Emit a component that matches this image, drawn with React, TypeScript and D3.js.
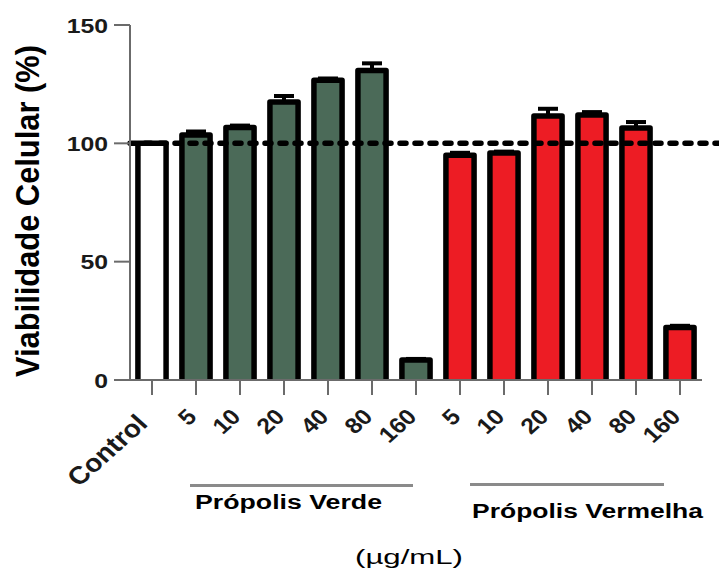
import React from "react";
import * as d3 from "d3";

const categoryLabels = ["Control", "5", "10", "20", "40", "80", "160", "5", "10", "20", "40", "80", "160"];
const categoryGroups = ["control", "verde", "verde", "verde", "verde", "verde", "verde", "vermelha", "vermelha", "vermelha", "vermelha", "vermelha", "vermelha"];
const meanValues = [100, 103.5, 106.7, 117.5, 126.7, 130.8, 8.4, 95, 95.9, 111.6, 112, 106.5, 22.2];
const errorValues = [0, 1.5, 0.8, 2.5, 0.7, 3, 0.5, 1, 0.6, 3, 1.2, 2.5, 0.7];
const yTicks = [0, 50, 100, 150];
const referenceValue = 100;
const groupNames = ["Própolis Verde", "Própolis Vermelha"];
const unitLabel = "(µg/mL)";
const yAxisTitle = "Viabilidade Celular (%)";

const colors: Record<string, string> = {
  control: "#ffffff",
  verde: "#4b6a58",
  vermelha: "#ed1c24",
};

export default function App() {
  const W = 719;
  const H = 573;
  const x0 = 130;
  const x1 = 702;
  const yBase = 380;
  const yTop = 25;

  const x = d3
    .scaleBand<number>()
    .domain(d3.range(categoryLabels.length))
    .range([x0, x1])
    .paddingInner(0.36)
    .paddingOuter(0.18);
  const y = d3.scaleLinear().domain([0, 150]).range([yBase, yTop]);
  const bw = x.bandwidth();
  const cx = (i: number) => (x(i) as number) + bw / 2;

  const font = "Liberation Sans, Arial, Helvetica, sans-serif";
  const axisColor = "#6b6b6b";

  return (
    <svg
      width={W}
      height={H}
      viewBox={`0 0 ${W} ${H}`}
      style={{ position: "fixed", left: 0, top: 0, background: "#fff" }}
    >
      <rect x={0} y={0} width={W} height={H} fill="#fff" />

      {/* Y axis title */}
      <text
        transform={`translate(39, 211) scale(1.08, 1) rotate(-90)`}
        textAnchor="middle"
        fontFamily={font}
        fontWeight="bold"
        fontSize={31}
        textLength={332}
        lengthAdjust="spacingAndGlyphs"
        fill="#000"
      >
        {yAxisTitle}
      </text>

      {/* Bars */}
      {meanValues.map((v, i) => {
        const left = x(i) as number;
        const right = left + bw;
        const top = y(v);
        return (
          <g key={`bar-${i}`}>
            <rect x={left} y={top} width={bw} height={yBase - top} fill={colors[categoryGroups[i]]} />
            {errorValues[i] > 0 && (
              <g stroke="#000" strokeWidth={4}>
                <line x1={cx(i)} x2={cx(i)} y1={top} y2={y(v + errorValues[i])} />
                <line x1={cx(i) - 10} x2={cx(i) + 10} y1={y(v + errorValues[i])} y2={y(v + errorValues[i])} />
              </g>
            )}
            <path
              d={`M${left},${yBase} L${left},${top} L${right},${top} L${right},${yBase}`}
              fill="none"
              stroke="#000"
              strokeWidth={5.5}
              strokeLinejoin="round"
            />
          </g>
        );
      })}

      {/* Reference dotted line */}
      <line
        x1={x0}
        x2={W}
        y1={y(referenceValue)}
        y2={y(referenceValue)}
        stroke="#000"
        strokeWidth={5.5}
        strokeDasharray="6 9"
        strokeLinecap="round"
      />

      {/* Y axis */}
      <line x1={x0} x2={x0} y1={y(150)} y2={yBase} stroke={axisColor} strokeWidth={2} />
      {yTicks.map((t) => (
        <g key={`yt-${t}`}>
          <line x1={x0 - 16} x2={x0} y1={y(t)} y2={y(t)} stroke={axisColor} strokeWidth={2} />
          <text
            transform={`translate(${x0 - 22}, ${y(t) + 7.5}) scale(1.18, 1)`}
            textAnchor="end"
            fontFamily={font}
            fontWeight="bold"
            fontSize={21}
            fill="#1a1a1a"
          >
            {t}
          </text>
        </g>
      ))}

      {/* X axis */}
      <line x1={x0 - 16} x2={x1} y1={yBase} y2={yBase} stroke={axisColor} strokeWidth={2} />
      {categoryLabels.map((lab, i) => (
        <g key={`xt-${i}`}>
          <line x1={cx(i)} x2={cx(i)} y1={yBase} y2={yBase + 15} stroke={axisColor} strokeWidth={2} />
          <text
            transform={
              i === 0
                ? `translate(${cx(i) - 3}, ${yBase + 45}) scale(1.12, 1) rotate(-45)`
                : `translate(${cx(i) + 2}, ${yBase + 38}) scale(1.12, 1) rotate(-45)`
            }
            textAnchor="end"
            fontFamily={font}
            fontWeight="bold"
            fontSize={i === 0 ? 25 : 22}
            fill="#1a1a1a"
          >
            {lab}
          </text>
        </g>
      ))}

      {/* Group annotations */}
      <line x1={cx(1) - 6} x2={cx(6) - 3} y1={485.5} y2={485.5} stroke="#8a8a8a" strokeWidth={3} />
      <line x1={cx(7) + 10} x2={cx(12) - 16} y1={484.5} y2={484.5} stroke="#8a8a8a" strokeWidth={3} />
      <text
        x={cx(1) - 1}
        y={509}
        fontFamily={font}
        fontWeight="bold"
        fontSize={20}
        textLength={187}
        lengthAdjust="spacingAndGlyphs"
        fill="#000"
      >
        {groupNames[0]}
      </text>
      <text
        x={cx(7) + 12}
        y={518}
        fontFamily={font}
        fontWeight="bold"
        fontSize={20}
        textLength={231}
        lengthAdjust="spacingAndGlyphs"
        fill="#000"
      >
        {groupNames[1]}
      </text>
      <text
        x={355}
        y={564}
        fontFamily={font}
        fontSize={21}
        textLength={108}
        lengthAdjust="spacingAndGlyphs"
        fill="#000"
      >
        {unitLabel}
      </text>
    </svg>
  );
}
